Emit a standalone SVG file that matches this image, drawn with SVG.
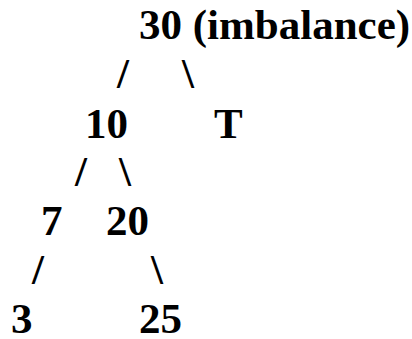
<svg xmlns="http://www.w3.org/2000/svg" width="412" height="339" viewBox="0 0 412 339">
<style>
text { font-family: "Liberation Serif", "Times New Roman", serif; font-weight: bold; font-size: 43px; fill: #000; }
</style>
<rect width="412" height="339" fill="#fff"/>
<g id="connectors">
<text x="117" y="88">/</text>
<text x="182" y="88">\</text>
<text x="75" y="186">/</text>
<text x="119" y="186">\</text>
<text x="32" y="284">/</text>
<text x="151" y="284">\</text>
</g>
<g id="n30"><text x="139" y="39">30 (imbalance)</text></g>
<g id="n10"><text x="85" y="137.5">10</text></g>
<g id="nT"><text x="214" y="137.5">T</text></g>
<g id="n7"><text x="41" y="235">7</text></g>
<g id="n20"><text x="106" y="235">20</text></g>
<g id="n3"><text x="11" y="332.5">3</text></g>
<g id="n25"><text x="139" y="332.5">25</text></g>
</svg>
